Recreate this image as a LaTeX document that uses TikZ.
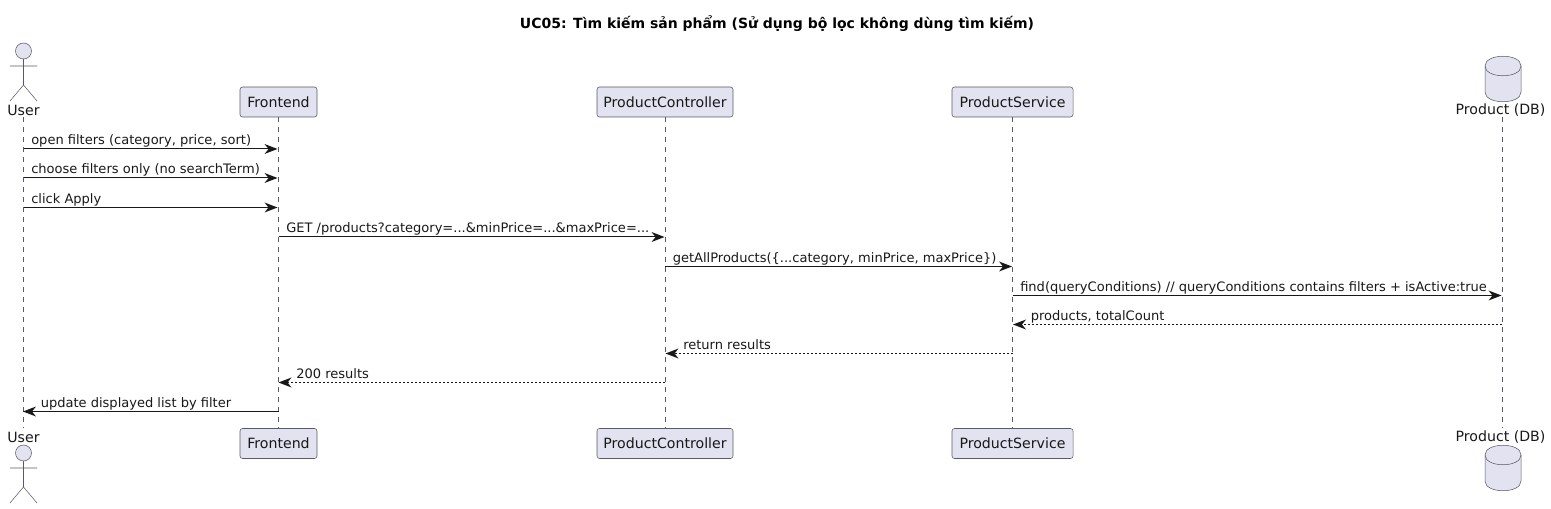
\documentclass[tikz,border=0pt]{standalone}
\usepackage{fontspec}
\setmainfont{DejaVu Sans}
\definecolor{pfill}{HTML}{E2E2F0}
\definecolor{pline}{HTML}{5A5A66}
\definecolor{ink}{HTML}{181818}
\newcommand{\lblsize}{\fontsize{10.6pt}{13pt}\selectfont}
\newcommand{\msgsize}{\fontsize{9.77pt}{12pt}\selectfont}
\tikzset{
  x=0.75pt,y=-0.75pt,
  pbox/.style={draw=pline,fill=pfill,rounded corners=1.9pt,line width=0.4pt,text=ink,inner sep=0pt,minimum height=22.5pt,font=\lblsize},
  plabel/.style={text=ink,inner sep=0pt,font=\lblsize},
  shape line/.style={draw=pline,line width=0.4pt},
  lifeline/.style={draw=pline,line width=0.4pt,dash pattern=on 3.75pt off 3.75pt},
  msg/.style={draw=ink,line width=0.75pt},
  msgtext/.style={text=ink,inner sep=0pt,anchor=base west,font=\msgsize},
}
\newcommand{\tip}[3]{% tip at #1,#2; direction #3 (+1 right, -1 left)
  \fill[ink] (#1,#2) -- ++(-#3*13,-5) -- ++(#3*4,5) -- ++(-#3*4,5) -- cycle;}
\newcommand{\actorfig}[2]{% head centre x,y
  \draw[shape line,fill=pfill] (#1,#2) circle (6pt);
  \draw[shape line] (#1,#2+8) -- (#1,#2+34)
     (#1-13.5,#2+15) -- (#1+13.5,#2+15)
     (#1-13.5,#2+50) -- (#1,#2+34) -- (#1+13.5,#2+50);}
\newcommand{\dbfig}[2]{% left x, top y
  \draw[shape line,fill=pfill] (#1,#2+10)
     .. controls (#1,#2-3) and (#1+36,#2-3) .. (#1+36,#2+10)
     -- (#1+36,#2+36)
     .. controls (#1+36,#2+49) and (#1,#2+49) .. (#1,#2+36) -- cycle;
  \draw[shape line] (#1,#2+10) .. controls (#1,#2+23) and (#1+36,#2+23) .. (#1+36,#2+10);}
\begin{document}
\begin{tikzpicture}
\useasboundingbox (0,0) rectangle (1551,509);
\node[inner sep=0pt,text=black,font=\fontsize{10.5pt}{13pt}\selectfont\bfseries] (title) at (777,23.5) {UC05: Tìm kiếm sản phẩm (Sử dụng bộ lọc không dùng tìm kiếm)};

% lifeline anchors
\coordinate (uT) at (23.5,117); \coordinate (uB) at (23.5,428);
\coordinate (dT) at (1502,117); \coordinate (dB) at (1502,428);

% participants
\node[pbox,minimum width=57.75pt] (feT) at (278.5,102) {Frontend};
\node[pbox,minimum width=57.75pt] (feB) at (278.5,443.5) {Frontend};
\node[pbox,minimum width=102pt] (pcT) at (665,102) {ProductController};
\node[pbox,minimum width=102pt] (pcB) at (665,443.5) {ProductController};
\node[pbox,minimum width=90.75pt] (psT) at (1012.5,102) {ProductService};
\node[pbox,minimum width=90.75pt] (psB) at (1012.5,443.5) {ProductService};

\node[plabel] (uL1) at (23.5,110) {User};
\node[plabel] (uL2) at (23.5,437) {User};
\node[plabel] (dL1) at (1500.5,110) {Product (DB)};
\node[plabel] (dL2) at (1500.5,437) {Product (DB)};

\actorfig{23.5}{51}
\actorfig{23.5}{453}
\dbfig{1485}{56}
\dbfig{1485}{445}

% lifelines
\draw[lifeline] (uT) -- (uB);
\draw[lifeline] (feT.south) -- (feB.north);
\draw[lifeline] (pcT.south) -- (pcB.north);
\draw[lifeline] (psT.south) -- (psB.north);
\draw[lifeline] (dT) -- (dB);

% messages
\newcommand{\msgR}[4]{% from x, to x, y, text
  \draw[msg] (#1,#3) -- (#2-3,#3);
  \tip{#2}{#3}{1}
  \node[msgtext] at (#1+7.5,#3-4.2) {#4};}
\newcommand{\msgL}[5]{% from x, to x, y, text, style
  \draw[msg,#5] (#1,#3) -- (#2+3,#3);
  \tip{#2}{#3}{-1}
  \node[msgtext] at (#2+17.5,#3-4.2) {#4};}
\msgR{23.5}{277.5}{149}{open filters (category, price, sort)}
\msgR{23.5}{277.5}{178}{choose filters only (no searchTerm)}
\msgR{23.5}{277.5}{207.5}{click Apply}
\msgR{278.5}{664.5}{237}{GET /products?category=...\&minPrice=...\&maxPrice=...}
\msgR{665}{1012}{266.5}{getAllProducts(\{...category, minPrice, maxPrice\})}
\msgR{1012.5}{1501.5}{295.5}{find(queryConditions) // queryConditions contains filters + isActive:true}
\msgL{1502}{1013}{324.5}{products, totalCount}{dash pattern=on 1.5pt off 1.5pt}
\msgL{1012.5}{665.5}{353.5}{return results}{dash pattern=on 1.5pt off 1.5pt}
\msgL{665}{278.5}{382.5}{200 results}{dash pattern=on 1.5pt off 1.5pt}
\msgL{278.5}{23}{411.5}{update displayed list by filter}{}
\end{tikzpicture}
\end{document}
